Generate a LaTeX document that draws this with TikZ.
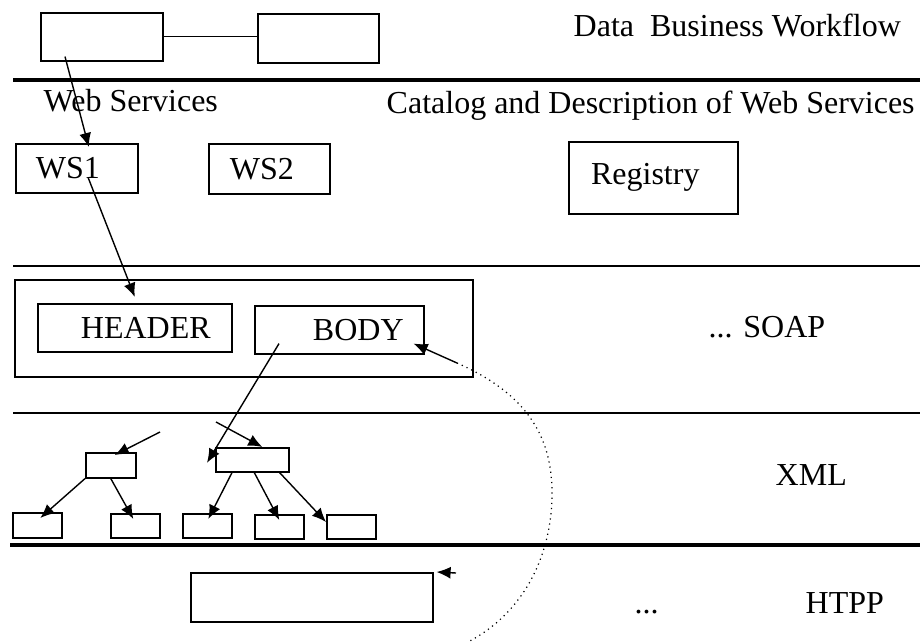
\documentclass[tikz,border=0pt]{standalone}
\usepackage{fontspec}
\setmainfont{Liberation Serif}
\usetikzlibrary{positioning,arrows.meta}

\begin{document}
\begin{tikzpicture}[
		x=0.5pt, y=-0.5pt,
		font=\fontsize{16}{19}\selectfont,
		>={Latex[length=7pt,width=6pt]},
		line width=0.7pt,
		box/.style = {draw, line width=0.8pt, inner sep=0pt, anchor=north west},
		leaf/.style = {box, minimum width=24.5pt, minimum height=12pt},
		layer/.style = {anchor=base west, inner sep=0pt},
		seprule/.style = {line width=1pt},
		boldrule/.style = {line width=2pt}
	]
	\useasboundingbox (0,0) rectangle (920,642);
	% Draw the layer separators.
	\draw[boldrule] (13,80) -- (920,80);
	\draw[seprule] (13,266) -- (920,266);
	\draw[seprule] (13,413) -- (920,413);
	\draw[boldrule] (10,545) -- (920,545);
	% Layer names.
	\node[layer] (title) at (573,37) {Data~ Business Workflow};
	\node[layer] (wsname) at (43,112) {Web Services};
	\node[layer] (catalog) at (386,113) {Catalog and Description of Web Services};
	\node[layer] (soapname) at (708,337) {... SOAP};
	\node[layer] (xmlname) at (775,485) {XML};
	\node[layer] (httpdots) at (634,613) {...};
	\node[layer] (httpname) at (805,613) {HTPP};
	% Workflow and web services.
	\node[box, minimum width=61pt, minimum height=24pt] (wf1) at (40,12) {};
	\node[box, minimum width=60.5pt, minimum height=24.5pt] (wf2) at (257,13) {};
	\node[box, minimum width=61pt, minimum height=24.5pt, label={[xshift=-4.5pt]center:WS1}] (ws1) at (15,143) {};
	\node[box, minimum width=60.5pt, minimum height=25pt, label={[xshift=-3.75pt]center:WS2}] (ws2) at (208,143) {};
	\node[box, minimum width=84.5pt, minimum height=36pt, label={[xshift=-4pt]center:Registry}] (reg) at (568,141) {};
	% SOAP message.
	\node[box, minimum width=229pt, minimum height=48.5pt] (soap) at (14,279) {};
	\node[box, minimum width=97pt, minimum height=24pt, label={[xshift=5.5pt]center:HEADER}] (header) at (37,303) {};
	\node[box, minimum width=84.5pt, minimum height=24pt, label={[xshift=9.5pt]center:BODY}] (body) at (254,305) {};
	% XML trees.
	\node[box, minimum width=25pt, minimum height=12.5pt] (xa) at (85,452) {};
	\node[box, minimum width=36.5pt, minimum height=12pt] (xb) at (215,447) {};
	\node[leaf, minimum height=12.5pt] (l1) at (12,512) {};
	\node[leaf] (l2) at (110,513) {};
	\node[leaf] (l3) at (182,513) {};
	\node[leaf] (l4) at (254,514) {};
	\node[leaf] (l5) at (326,514) {};
	% HTTP.
	\node[box, minimum width=121pt, minimum height=24.5pt] (http) at (190,572) {};
	\coordinate (xain) at (160,432);
	\coordinate (xbin) at (216,422);
	\coordinate (httpin) at (456,573);
	\coordinate (loopstart) at (457,363);
	\coordinate (loopend) at (468,642);
	% Draw the connectors.
	\draw (wf1.east) -- (wf1.east -| wf2.west);
	\draw[->] ([xshift=12.5pt, yshift=2.5pt]wf1.south west) -- ([xshift=6pt, yshift=-2pt]ws1.north);
	\draw[->] ([xshift=5.75pt, yshift=-17.5pt]ws1.north) -- ([yshift=3pt]header.north);
	\draw[->] ([xshift=12.5pt, yshift=5.5pt]body.south west) -- ([xshift=-4pt, yshift=-1.5pt]xb.west);
	\draw[->] (xain) -- ([xshift=2pt, yshift=-1.5pt]xa.north);
	\draw[->] (xbin) -- ([xshift=5pt]xb.north);
	\draw[->] (xa.south west) -- ([xshift=1.5pt, yshift=-3pt]l1.north);
	\draw[->] (xa.south) -- ([xshift=-1pt, yshift=-3pt]l2.north);
	\draw[->] ([xshift=8.5pt]xb.south west) -- ([xshift=0.5pt, yshift=-3pt]l3.north);
	\draw[->] ([xshift=1pt]xb.south) -- ([yshift=-3pt]l4.north);
	\draw[->] ([xshift=-5pt]xb.south east) -- ([yshift=-4pt]l5.north west);
	\draw[->] (httpin) -- ([xshift=1.5pt]http.north east);
	% Draw the return loop.
	\draw[->] (loopstart) -- ([xshift=-5.5pt, yshift=5.5pt]body.south east);
	\draw[dotted, line width=0.6pt] (loopstart) .. controls (530,395) and (552,440) .. (552,493)
		.. controls (552,560) and (520,615) .. (loopend);
\end{tikzpicture}
\end{document}
